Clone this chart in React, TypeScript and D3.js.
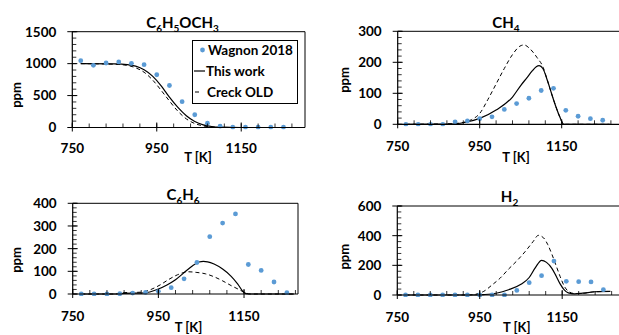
import React from "react";
import * as d3 from "d3";

// experimental temperatures (K)
const T_EXP = [770, 800, 830, 860, 890, 920, 950, 980, 1010, 1040, 1070, 1100, 1130, 1160, 1190, 1220, 1250];

// Wagnon 2018 measurements (ppm)
const anisoleExp = [1047, 974, 1010, 1026, 1005, 984, 826, 658, 405, 200, 68, 21, 5, 5, 5, 5, 5];
const ch4Exp = [0, 0, 0, 0, 8, 11, 18, 24, 48, 67, 84, 109, 116, 45, 26, 18, 13];
const benzeneExp = [0, 0, 0, 1, 4, 7, 12, 28, 67, 139, 253, 313, 353, 130, 104, 53, 6];
const h2Exp = [0, 0, 0, 0, 0, 0, 0, 0, 0, 31, 83, 130, 229, 92, 90, 88, 36];

// model curves [T, ppm]
const anisoleThis: [number, number][] = [
  [770, 1000], [850, 995], [880, 985], [900, 962], [920, 905], [940, 805], [960, 655], [970, 565],
  [980, 475], [1000, 315], [1020, 185], [1040, 95], [1060, 42], [1080, 16], [1100, 5], [1150, 0], [1267, 0],
];
const anisoleOld: [number, number][] = [
  [770, 1000], [850, 990], [880, 972], [900, 935], [920, 865], [940, 745], [960, 585], [970, 500],
  [980, 415], [1000, 255], [1020, 135], [1040, 62], [1060, 25], [1080, 8], [1100, 2], [1150, 0], [1267, 0],
];
const ch4This: [number, number][] = [
  [770, 0], [880, 1], [910, 5], [950, 19], [990, 46], [1030, 88], [1050, 125], [1065, 150],
  [1078, 172], [1088, 186], [1095, 189], [1104, 180], [1115, 142], [1125, 100], [1135, 60],
  [1145, 25], [1155, 0], [1267, 0],
];
const ch4Old: [number, number][] = [
  [770, 0], [880, 2], [910, 6], [930, 15], [950, 35], [970, 80], [990, 130], [1010, 180],
  [1030, 225], [1048, 252], [1058, 256], [1073, 243], [1090, 215], [1105, 183], [1115, 142],
  [1125, 100], [1135, 60], [1145, 25], [1155, 0], [1267, 0],
];
const benzeneThis: [number, number][] = [
  [770, 0], [850, 0], [870, 3], [910, 4], [930, 9], [950, 22], [970, 40], [990, 63], [1008, 91],
  [1030, 125], [1045, 141], [1055, 144], [1065, 142], [1080, 132], [1100, 110], [1120, 78],
  [1135, 45], [1149, 8], [1160, 0], [1267, 0],
];
const benzeneOld: [number, number][] = [
  [770, 0], [850, 0], [870, 6], [910, 8], [930, 18], [954, 40], [975, 65], [995, 85], [1020, 98],
  [1040, 95], [1060, 89], [1080, 76], [1100, 58], [1120, 37], [1140, 18], [1150, 8], [1165, 0], [1267, 0],
];
const h2This: [number, number][] = [
  [770, 0], [930, 0], [960, 3], [990, 12], [1020, 35], [1050, 72], [1070, 118], [1085, 185],
  [1100, 234], [1112, 220], [1125, 180], [1135, 130], [1145, 75], [1155, 35], [1165, 14],
  [1180, 8], [1200, 12], [1230, 22], [1267, 24],
];
const h2Old: [number, number][] = [
  [770, 0], [920, 0], [940, 5], [960, 25], [980, 68], [1000, 115], [1020, 175], [1040, 230],
  [1060, 292], [1080, 362], [1092, 402], [1105, 385], [1115, 340], [1125, 275], [1135, 200],
  [1145, 125], [1155, 60], [1165, 25], [1180, 10], [1200, 12], [1230, 22], [1267, 24],
];

const X_TICKS = [750, 950, 1150];

type Panel = {
  title: [string, boolean][];
  exp: number[];
  model: [number, number][];
  old: [number, number][];
  yMax: number;
  yMajor: number;
  yMinor: number;
  xMax: number;
  box: { left: number; right: number; top: number; bottom: number };
  xLabelY: number;
  tk: [number, number];
  ppm: [number, number];
  titlePos: [number, number];
  legend?: boolean;
};

const panels: Panel[] = [
  {
    title: [["C", false], ["6", true], ["H", false], ["5", true], ["OCH", false], ["3", true]],
    exp: anisoleExp, model: anisoleThis, old: anisoleOld,
    yMax: 1500, yMajor: 500, yMinor: 100, xMax: 1301,
    box: { left: 72.3, right: 305, top: 31.7, bottom: 127.5 },
    xLabelY: 148, tk: [198, 157.5], ppm: [16, 95], titlePos: [182.5, 28], legend: true,
  },
  {
    title: [["CH", false], ["4", true]],
    exp: ch4Exp, model: ch4This, old: ch4Old,
    yMax: 300, yMajor: 100, yMinor: 20, xMax: 1300,
    box: { left: 397.7, right: 623.2, top: 31.3, bottom: 124.3 },
    xLabelY: 146, tk: [516, 157.5], ppm: [344, 80], titlePos: [506, 28],
  },
  {
    title: [["C", false], ["6", true], ["H", false], ["6", true]],
    exp: benzeneExp, model: benzeneThis, old: benzeneOld,
    yMax: 400, yMajor: 100, yMinor: 20, xMax: 1276,
    box: { left: 72.7, right: 298, top: 203.3, bottom: 294 },
    xLabelY: 316, tk: [188.5, 327], ppm: [16, 260], titlePos: [183, 200],
  },
  {
    title: [["H", false], ["2", true]],
    exp: h2Exp, model: h2This, old: h2Old,
    yMax: 600, yMajor: 200, yMinor: 40, xMax: 1300,
    box: { left: 397.3, right: 624, top: 206, bottom: 295 },
    xLabelY: 317.5, tk: [516.7, 327], ppm: [344, 256.7], titlePos: [509.5, 201.5],
  },
];

const FONT = "Lato, 'Open Sans', sans-serif";
const BLUE = "#5B9BD5";

function ChartPanel({ p }: { p: Panel }) {
  const { left, right, top, bottom } = p.box;
  const x = d3.scaleLinear().domain([750, p.xMax]).range([left, right]);
  const y = d3.scaleLinear().domain([0, p.yMax]).range([bottom, top]);
  const line = d3
    .line<[number, number]>()
    .x((d) => x(d[0]))
    .y((d) => y(d[1]))
    .curve(d3.curveMonotoneX);

  const yMajors = d3.range(0, p.yMax + 1e-6, p.yMajor);
  const yMinors = d3.range(0, p.yMax + 1e-6, p.yMinor);
  const xMinors = d3.range(750, p.xMax + 1e-6, 40);

  return (
    <g>
      {/* plot frame */}
      <path
        d={`M${left},${top}H${right}V${bottom}`}
        fill="none"
        stroke="#000"
        strokeWidth={1}
      />
      <clipPath id={`clip-${left}-${top}`}>
        <rect x={left} y={top - 10} width={right - left} height={bottom - top + 12} />
      </clipPath>
      <g clipPath={`url(#clip-${left}-${top})`}>
        <path d={line(p.old) || ""} fill="none" stroke="#000" strokeWidth={1} strokeDasharray="4,3" />
        <path d={line(p.model) || ""} fill="none" stroke="#000" strokeWidth={1.2} />
        {p.exp.map((v, i) => (
          <circle key={i} cx={x(T_EXP[i])} cy={y(v)} r={2.4} fill={BLUE} />
        ))}
      </g>
      {/* y axis */}
      <line x1={left} x2={left} y1={top} y2={bottom} stroke="#000" strokeWidth={1.2} />
      {yMinors.map((v) => (
        <line key={"ym" + v} x1={left} x2={left + 4} y1={y(v)} y2={y(v)} stroke="#000" strokeWidth={0.8} />
      ))}
      {yMajors.map((v) => (
        <g key={"yM" + v}>
          <line x1={left - 5} x2={left + 5} y1={y(v)} y2={y(v)} stroke="#000" strokeWidth={1} />
          <text
            x={left - 16}
            y={y(v)}
            dy="0.36em"
            textAnchor="end"
            fontSize={13.5}
            fontWeight={700}
            fontFamily={FONT}
          >
            {v}
          </text>
        </g>
      ))}
      {/* x axis */}
      <line x1={left} x2={right} y1={bottom} y2={bottom} stroke="#000" strokeWidth={1.2} />
      {xMinors.map((v) => (
        <line key={"xm" + v} x1={x(v)} x2={x(v)} y1={bottom - 4} y2={bottom} stroke="#000" strokeWidth={0.8} />
      ))}
      {X_TICKS.map((v) => (
        <g key={"xM" + v}>
          <line x1={x(v)} x2={x(v)} y1={bottom - 5} y2={bottom + 4} stroke="#000" strokeWidth={1} />
          <text
            x={x(v)}
            y={p.xLabelY}
            dy="0.36em"
            textAnchor="middle"
            fontSize={13.5}
            fontWeight={700}
            fontFamily={FONT}
          >
            {v}
          </text>
        </g>
      ))}
      <text
        x={p.tk[0]}
        y={p.tk[1]}
        dy="0.36em"
        textAnchor="middle"
        fontSize={13}
        fontWeight={700}
        fontFamily={FONT}
      >
        T [K]
      </text>
      <text
        transform={`translate(${p.ppm[0]},${p.ppm[1]}) rotate(-90)`}
        dy="0.36em"
        textAnchor="middle"
        fontSize={13}
        fontWeight={700}
        fontFamily={FONT}
      >
        ppm
      </text>
      <text
        x={p.titlePos[0]}
        y={p.titlePos[1]}
        textAnchor="middle"
        fontSize={15}
        fontWeight={700}
        fontFamily={FONT}
      >
        {p.title.map(([s, sub], i) =>
          sub ? (
            <tspan key={i} fontSize={10} dy={4}>
              {s}
            </tspan>
          ) : (
            <tspan key={i} dy={i > 0 && p.title[i - 1][1] ? -4 : 0}>
              {s}
            </tspan>
          )
        )}
      </text>
      {p.legend && (
        <g fontFamily={FONT} fontSize={13.5} fontWeight={700}>
          <rect x={192.5} y={40.5} width={105} height={63} fill="#fff" stroke="#000" strokeWidth={1} />
          <circle cx={202.5} cy={50} r={2.4} fill={BLUE} />
          <text x={208} y={50} dy="0.36em">Wagnon 2018</text>
          <line x1={194} x2={205} y1={71} y2={71} stroke="#000" strokeWidth={1.2} />
          <text x={206} y={71} dy="0.36em">This work</text>
          <line x1={195} x2={199} y1={92} y2={92} stroke="#000" strokeWidth={1} />
          <text x={207} y={92} dy="0.36em">Creck OLD</text>
        </g>
      )}
    </g>
  );
}

export default function App() {
  return (
    <svg
      width={619}
      height={335}
      style={{ position: "absolute", left: 0, top: 0, background: "#fff" }}
    >
      <rect width={619} height={335} fill="#fff" />
      {panels.map((p, i) => (
        <ChartPanel key={i} p={p} />
      ))}
    </svg>
  );
}
